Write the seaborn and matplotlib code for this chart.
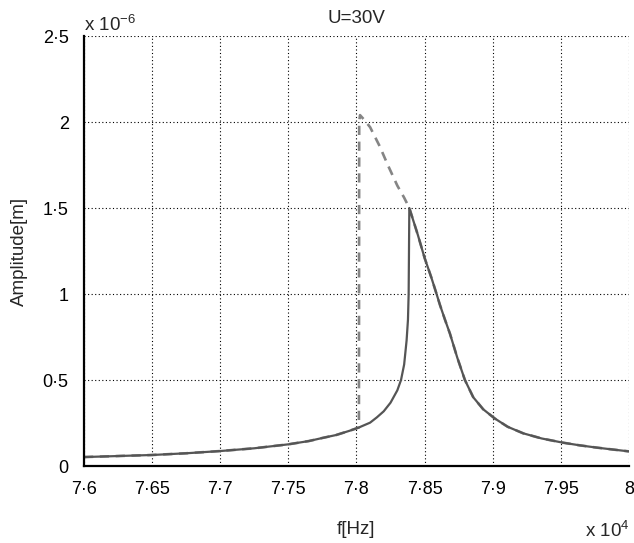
import matplotlib
matplotlib.use("Agg")
import matplotlib.pyplot as plt
import seaborn as sns
import pandas as pd
from matplotlib.ticker import FuncFormatter, MultipleLocator

# frequency [Hz] and amplitude [x 1e-6 m]
# lower branch (shared by both sweeps)
f_low = [76000, 76250, 76500, 76750, 77000, 77250, 77500, 77650, 77750, 77850,
         77950, 78000, 78018]
a_low = [0.052, 0.058, 0.064, 0.074, 0.087, 0.103, 0.126, 0.145, 0.163, 0.180,
         0.205, 0.219, 0.224]

# solid sweep: stays on the lower branch up to the jump at ~78.39 kHz
f_up_rise = [78050, 78100, 78150, 78200, 78250, 78300, 78327, 78350, 78368,
             78378, 78383, 78386, 78388]
a_up_rise = [0.235, 0.252, 0.283, 0.318, 0.368, 0.440, 0.500, 0.590, 0.730,
             0.850, 1.000, 1.300, 1.500]

# falling branch after the peak (shared)
f_fall = [78388, 78450, 78500, 78550, 78588, 78613, 78650, 78686, 78740, 78796,
          78857, 78930, 79014, 79110, 79224, 79360, 79513, 79640, 79763, 79880, 80000]
a_fall = [1.500, 1.345, 1.210, 1.095, 1.000, 0.936, 0.850, 0.770, 0.630, 0.500,
          0.400, 0.330, 0.277, 0.228, 0.190, 0.160, 0.136, 0.120, 0.107, 0.096, 0.085]

# dashed sweep: jump at ~78.02 kHz onto the upper branch
f_dash_top = [78018, 78020, 78026, 78060, 78100, 78170, 78230, 78300, 78350, 78388]
a_dash_top = [0.224, 2.000, 2.040, 2.010, 1.970, 1.860, 1.750, 1.630, 1.560, 1.500]

solid = pd.DataFrame({"f": f_low + f_up_rise + f_fall,
                      "a": a_low + a_up_rise + a_fall})
dashed = pd.DataFrame({"f": f_low + f_dash_top + f_fall,
                       "a": a_low + a_dash_top + a_fall})

sns.set_style("white")
plt.rcParams["font.family"] = ["Liberation Sans", "DejaVu Sans"]
plt.rcParams["mathtext.default"] = "regular"

fig = plt.figure(figsize=(6.34, 5.43), dpi=100)
ax = fig.add_axes([0.1325, 0.1418, 0.8595, 0.7919])

sns.lineplot(data=dashed, x="f", y="a", sort=False, estimator=None, ax=ax,
             color="#858585", lw=1.9, linestyle=(0, (3.5, 2.5)))
sns.lineplot(data=solid, x="f", y="a", sort=False, estimator=None, ax=ax,
             color="#555555", lw=1.6)

ax.set_xlim(76000, 80000)
ax.set_ylim(0, 2.5)
ax.xaxis.set_major_locator(MultipleLocator(500))
ax.yaxis.set_major_locator(MultipleLocator(0.5))
ax.xaxis.set_major_formatter(FuncFormatter(lambda v, p: f"{v/1e4:g}".replace(".", "\u00b7")))
ax.yaxis.set_major_formatter(FuncFormatter(lambda v, p: f"{v:g}".replace(".", "\u00b7")))

ax.grid(True, color="black", linestyle=(0, (1, 2.2)), lw=0.8)
for s in ["top", "right"]:
    ax.spines[s].set_visible(False)
for s in ["left", "bottom"]:
    ax.spines[s].set_color("black")
    ax.spines[s].set_linewidth(1.6)
ax.tick_params(direction="in", length=4, width=1.2, labelsize=13, colors="black",
               pad=11)

ax.set_xlabel("f[Hz]", fontsize=13.5, va="baseline")
ax.xaxis.set_label_coords(0.5, (466 - 534) / 430)
ax.set_ylabel("Amplitude[m]", fontsize=13.5)
ax.yaxis.set_label_coords(-0.103, 0.5)
ax.set_title("U=30V", fontsize=13.5, y=(466 - 23) / 430, pad=0)
ax.text(0.0, (466 - 31) / 430, "x 10$^{-6}$", transform=ax.transAxes,
        fontsize=13.5, ha="left", va="baseline")
fig.text(630 / 634, (543 - 537) / 543, "x 10$^{4}$", fontsize=13.5,
         ha="right", va="baseline")

fig.savefig("out.png", dpi=100)
